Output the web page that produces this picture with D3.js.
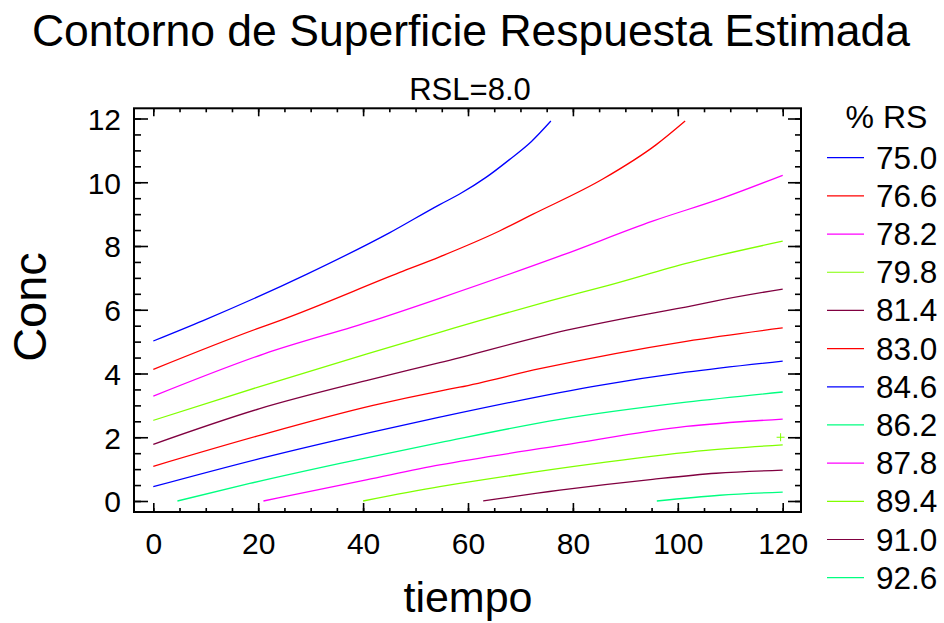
<!DOCTYPE html>
<html><head><meta charset="utf-8">
<script src="https://cdn.jsdelivr.net/npm/d3@7"></script>
<style>body{margin:0;background:#fff}svg{display:block}text{font-family:"Liberation Sans",Arial,sans-serif;fill:#000}</style>
</head><body>
<svg id="c" width="944" height="623"></svg>
<script>
// ---- data ----
const levels = ["75.0","76.6","78.2","79.8","81.4","83.0","84.6","86.2","87.8","89.4","91.0","92.6"];
const colors = ["#0000FF","#FF0000","#FF00FF","#80FF00","#800040","#FF0000","#0000FF","#00FF80","#FF00FF","#80FF00","#800040","#00FF80"];
const c750 = [[0,5.02],[9.5,5.66],[29.2,7.11],[45.1,8.42],[54.6,9.30],[58.4,9.63],[63.5,10.16],[67.9,10.71],[72.1,11.28],[75.8,11.92]];
const c766 = [[0,4.13],[19.7,5.40],[24.1,5.66],[47,7.17],[54.6,7.66],[66,8.47],[72.3,8.99],[85.7,10.1],[95.9,11.18],[101.4,11.92]];
const c782 = [[0,3.29],[21,4.61],[41.9,5.66],[54.6,6.36],[78.1,7.72],[95.2,8.78],[108.6,9.51],[120,10.22]];
const c798 = [[0,2.53],[20.3,3.59],[40.6,4.61],[54.6,5.29],[62.2,5.66],[75.6,6.28],[86.4,6.75],[102.2,7.48],[120,8.15]];
const c814 = [[0,1.78],[20.3,2.90],[40.6,3.78],[54.6,4.34],[80,5.40],[88.9,5.70],[102.9,6.13],[107.3,6.28],[120,6.65]];
const c830 = [[0,1.09],[20.3,2.06],[41.9,3.0],[54.6,3.45],[58.4,3.57],[73.7,4.15],[101.6,5.01],[120,5.43]];
const c846 = [[0,0.45],[20.3,1.33],[41.9,2.17],[54.6,2.63],[85.1,3.63],[101.6,4.04],[120,4.39]];
const c862 = [[4.6,0],[18.4,0.55],[35.6,1.18],[54.6,1.83],[77.5,2.56],[101.6,3.10],[120,3.42]];
const c878 = [[21,0],[40.6,0.66],[54.6,1.13],[78.1,1.75],[101.6,2.34],[120,2.57]];
const c894 = [[40,0],[54.6,0.45],[58.4,0.55],[84.5,1.18],[105.4,1.59],[120,1.76]];
const c910 = [[62.9,0],[77.5,0.34],[95.2,0.68],[107.3,0.87],[120,0.97]];
const c926 = [[96,0],[108,0.18],[120,0.28]];
const contours = [c750,c766,c782,c798,c814,c830,c846,c862,c878,c894,c910,c926];
const marker = [[119.6,2.0]];
const xTicks = [0,20,40,60,80,100,120];
const yTicks = [0,2,4,6,8,10,12];
const title = "Contorno de Superficie Respuesta Estimada";
const subtitle = "RSL=8.0";
const xLabel = "tiempo", yLabel = "Conc", legendTitle = "% RS";

// ---- layout ----
const svg = d3.select("#c");
const x = d3.scaleLinear().domain([0,120]).range([153.3,782.7]);
const y = d3.scaleLinear().domain([0,12]).range([501,118.5]);
const F = {l:134, r:801, t:108.3, b:512};

svg.append("text").attr("x",471).attr("y",46).attr("text-anchor","middle").attr("font-size",44.5).text(title);
svg.append("text").attr("x",470).attr("y",100).attr("text-anchor","middle").attr("font-size",31).text(subtitle);

// contours
svg.append("clipPath").attr("id","pc").append("rect").attr("x",F.l).attr("y",F.t).attr("width",F.r-F.l).attr("height",F.b-F.t);
const line = d3.line().x(d=>x(d[0])).y(d=>y(d[1])).curve(d3.curveMonotoneX);
const g = svg.append("g").attr("clip-path","url(#pc)");
contours.forEach((c,i)=>{
  g.append("path").attr("d",line(c)).attr("fill","none").attr("stroke",colors[i]).attr("stroke-width",1.3);
});
marker.forEach(m=>{
  const px=x(m[0]), py=y(m[1]);
  g.append("path").attr("d",`M${px-4},${py}H${px+4}M${px},${py-4}V${py+4}`).attr("stroke","#80FF00").attr("stroke-width",1);
});

// frame
svg.append("rect").attr("x",F.l).attr("y",F.t).attr("width",F.r-F.l).attr("height",F.b-F.t).attr("fill","none").attr("stroke","#000").attr("stroke-width",2);

// axes via d3 axis generators
const xMinor = d3.range(0,121,5), yMinor = d3.range(0,12.01,0.5);
const axB = svg.append("g").attr("transform",`translate(0,${F.b})`)
  .call(d3.axisBottom(x).tickValues(xMinor).tickSize(-4).tickFormat(""));
const axB2 = svg.append("g").attr("transform",`translate(0,${F.b})`)
  .call(d3.axisBottom(x).tickValues(xTicks).tickSize(-9).tickFormat(d3.format("d")));
const axT = svg.append("g").attr("transform",`translate(0,${F.t})`)
  .call(d3.axisTop(x).tickValues(xMinor).tickSize(-4).tickFormat(""));
const axT2 = svg.append("g").attr("transform",`translate(0,${F.t})`)
  .call(d3.axisTop(x).tickValues(xTicks).tickSize(-8).tickFormat(""));
const axL = svg.append("g").attr("transform",`translate(${F.l},0)`)
  .call(d3.axisLeft(y).tickValues(yMinor).tickSize(-7).tickFormat(""));
const axL2 = svg.append("g").attr("transform",`translate(${F.l},0)`)
  .call(d3.axisLeft(y).tickValues(yTicks).tickSize(-14).tickFormat(d3.format("d")));
const axR = svg.append("g").attr("transform",`translate(${F.r},0)`)
  .call(d3.axisRight(y).tickValues(yMinor).tickSize(-6).tickFormat(""));
const axR2 = svg.append("g").attr("transform",`translate(${F.r},0)`)
  .call(d3.axisRight(y).tickValues(yTicks).tickSize(-13).tickFormat(""));
[axB,axB2,axT,axT2,axL,axL2,axR,axR2].forEach(a=>{
  a.select(".domain").remove();
  a.selectAll(".tick line").attr("stroke","#000").attr("stroke-width",1.6);
});
axB2.selectAll(".tick text").attr("font-size",30).attr("font-family","Liberation Sans, Arial, sans-serif").attr("fill","#000").attr("dy","0.71em").attr("y",21);
axL2.selectAll(".tick text").attr("font-size",30).attr("font-family","Liberation Sans, Arial, sans-serif").attr("fill","#000").attr("x",-13).attr("dy","0.36em");

// axis labels
svg.append("text").attr("x",468).attr("y",612).attr("text-anchor","middle").attr("font-size",43).text(xLabel);
svg.append("text").attr("transform","translate(46,307) rotate(-90)").attr("text-anchor","middle").attr("font-size",47).text(yLabel);

// legend
svg.append("text").attr("x",886.5).attr("y",128.3).attr("text-anchor","middle").attr("font-size",32).text(legendTitle);
const lg = svg.append("g");
levels.forEach((lv,i)=>{
  const ly = 157.7 + i*38.18;
  lg.append("line").attr("x1",827).attr("x2",864).attr("y1",ly).attr("y2",ly).attr("stroke",colors[i]).attr("stroke-width",1.2);
  lg.append("text").attr("x",876).attr("y",ly+11).attr("font-size",31.5).text(lv);
});
</script>
</body></html>
